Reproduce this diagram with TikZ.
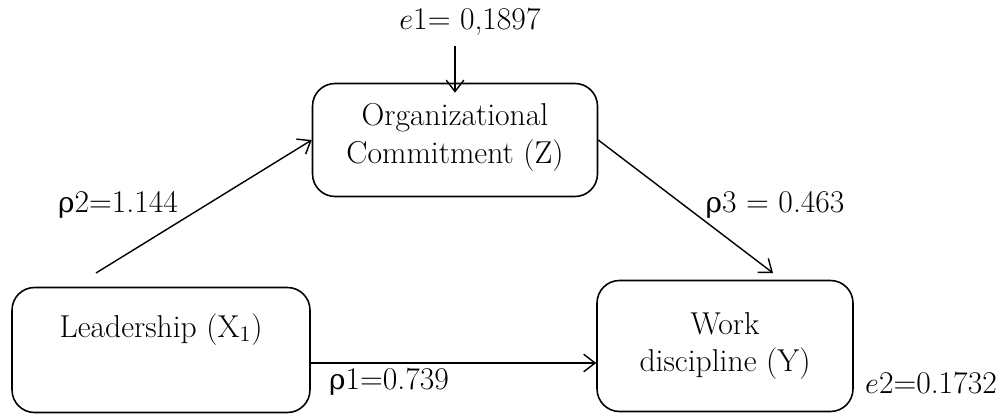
\documentclass[tikz,border=0pt]{standalone}
\usepackage{fontspec}
\newfontfamily\grkfont{DejaVu Serif}
\usetikzlibrary{arrows.meta,calc}
\newcommand{\rhosym}{{\grkfont\fontsize{16}{20}\selectfont\symbol{"03C1}}}
\tikzset{
  varbox/.style={draw,rounded corners=0.45cm,line width=0.9pt,align=center,inner sep=0pt},
  arr/.style={line width=0.8pt,-{Straight Barb[length=6.5pt,width=10pt,line width=0.8pt]}},
  coef/.style={inner sep=0pt}
}
\begin{document}
\begin{tikzpicture}[x=0.02cm,y=-0.02cm,font=\fontsize{18}{21.5}\selectfont]
            \useasboundingbox (0,0) rectangle (1003,415);
            \node[varbox,minimum width=5.96cm,minimum height=2.5cm] (lead) at (161,350) {Leadership (X\textsubscript{1})\\ \strut};
            \node[varbox,minimum width=5.7cm,minimum height=2.26cm] (org) at (455,140) {Organizational\\Commitment (Z)\\[-0.48cm]};
            \node[varbox,minimum width=5.12cm,minimum height=2.62cm] (work) at (725,346) {Work\\discipline (Y)};
            \node[coef] (e1) at (470,22) {$e$1= 0,1897};
            \node[coef] (e2) at (931,383) {$e$2=0.1732};
            \node[coef] (p1) at (389,382) {\rhosym1=0.739};
            \node[coef] (p2) at (118,205) {\rhosym2=1.144};
            \node[coef] (p3) at (775,205) {\rhosym3 = 0.463};
            \coordinate (p2start) at (96,273);
            \coordinate (p3end) at (773,273);
            \draw[arr] (p2start) -- (org.west);
            \draw[arr] (org.east) -- (p3end);
            \draw[arr] ($(lead.east)+(0,13)$) -- ($(work.west)+(0,17)$);
            \draw[arr] ($(e1.south -| org.north)+(0,10)$) -- ($(org.north)+(0,10)$);
\end{tikzpicture}
\end{document}
